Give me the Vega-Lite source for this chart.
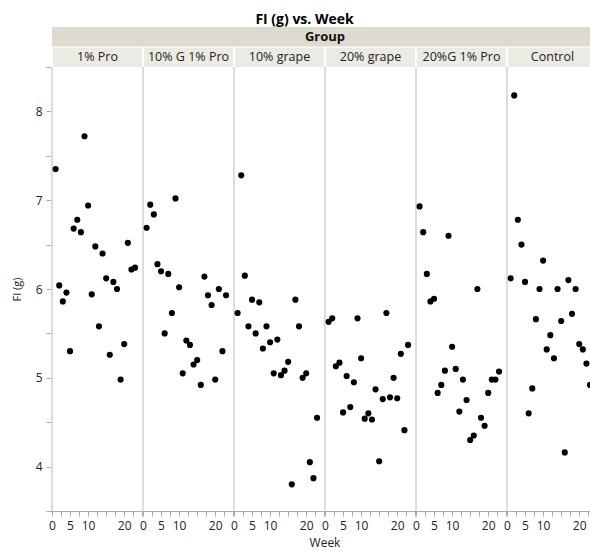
{
  "$schema": "https://vega.github.io/schema/vega-lite/v6.json",
  "title": {"text": "FI (g) vs. Week", "fontSize": 14, "font": "Open Sans", "fontWeight": "bold", "color": "#000", "anchor": "middle", "offset": 0},
  "padding": {"left": 11, "top": 13, "right": 0, "bottom": 4},
  "spacing": 0,
  "bounds": "flush",
  "config": {
    "view": {"stroke": null},
    "font": "Open Sans",
    "axis": {"domainColor": "#ababab", "tickColor": "#ababab", "labelColor": "#222", "labelFont": "Open Sans", "labelFontSize": 12, "titleFont": "Open Sans", "titleFontSize": 11, "titleFontWeight": "normal", "titleColor": "#222", "grid": false, "tickSize": 5, "labelPadding": 3, "labelOverlap": false, "labelSeparation": 0, "labelBound": false}
  },
  "datasets": {
    "hdr": [
      {"level": "panel", "Group": "1% Pro"},
      {"level": "panel", "Group": "10% G 1% Pro"},
      {"level": "panel", "Group": "10% grape"},
      {"level": "panel", "Group": "20% grape"},
      {"level": "panel", "Group": "20%G 1% Pro"},
      {"level": "panel", "Group": "Control"}
    ],
    "fi": [
      {"Group":"1% Pro","Week":1,"FI":7.35},{"Group":"1% Pro","Week":2,"FI":6.04},{"Group":"1% Pro","Week":3,"FI":5.86},{"Group":"1% Pro","Week":4,"FI":5.96},{"Group":"1% Pro","Week":5,"FI":5.30},{"Group":"1% Pro","Week":6,"FI":6.68},{"Group":"1% Pro","Week":7,"FI":6.78},{"Group":"1% Pro","Week":8,"FI":6.64},{"Group":"1% Pro","Week":9,"FI":7.72},{"Group":"1% Pro","Week":10,"FI":6.94},{"Group":"1% Pro","Week":11,"FI":5.94},{"Group":"1% Pro","Week":12,"FI":6.48},{"Group":"1% Pro","Week":13,"FI":5.58},{"Group":"1% Pro","Week":14,"FI":6.40},{"Group":"1% Pro","Week":15,"FI":6.12},{"Group":"1% Pro","Week":16,"FI":5.26},{"Group":"1% Pro","Week":17,"FI":6.08},{"Group":"1% Pro","Week":18,"FI":6.00},{"Group":"1% Pro","Week":19,"FI":4.98},{"Group":"1% Pro","Week":20,"FI":5.38},{"Group":"1% Pro","Week":21,"FI":6.52},{"Group":"1% Pro","Week":22,"FI":6.22},{"Group":"1% Pro","Week":23,"FI":6.24},
      {"Group":"10% G 1% Pro","Week":1,"FI":6.69},{"Group":"10% G 1% Pro","Week":2,"FI":6.95},{"Group":"10% G 1% Pro","Week":3,"FI":6.84},{"Group":"10% G 1% Pro","Week":4,"FI":6.28},{"Group":"10% G 1% Pro","Week":5,"FI":6.20},{"Group":"10% G 1% Pro","Week":6,"FI":5.50},{"Group":"10% G 1% Pro","Week":7,"FI":6.17},{"Group":"10% G 1% Pro","Week":8,"FI":5.73},{"Group":"10% G 1% Pro","Week":9,"FI":7.02},{"Group":"10% G 1% Pro","Week":10,"FI":6.02},{"Group":"10% G 1% Pro","Week":11,"FI":5.05},{"Group":"10% G 1% Pro","Week":12,"FI":5.42},{"Group":"10% G 1% Pro","Week":13,"FI":5.37},{"Group":"10% G 1% Pro","Week":14,"FI":5.15},{"Group":"10% G 1% Pro","Week":15,"FI":5.20},{"Group":"10% G 1% Pro","Week":16,"FI":4.92},{"Group":"10% G 1% Pro","Week":17,"FI":6.14},{"Group":"10% G 1% Pro","Week":18,"FI":5.93},{"Group":"10% G 1% Pro","Week":19,"FI":5.82},{"Group":"10% G 1% Pro","Week":20,"FI":4.98},{"Group":"10% G 1% Pro","Week":21,"FI":6.00},{"Group":"10% G 1% Pro","Week":22,"FI":5.30},{"Group":"10% G 1% Pro","Week":23,"FI":5.93},
      {"Group":"10% grape","Week":1,"FI":5.73},{"Group":"10% grape","Week":2,"FI":7.28},{"Group":"10% grape","Week":3,"FI":6.15},{"Group":"10% grape","Week":4,"FI":5.58},{"Group":"10% grape","Week":5,"FI":5.88},{"Group":"10% grape","Week":6,"FI":5.50},{"Group":"10% grape","Week":7,"FI":5.85},{"Group":"10% grape","Week":8,"FI":5.33},{"Group":"10% grape","Week":9,"FI":5.58},{"Group":"10% grape","Week":10,"FI":5.40},{"Group":"10% grape","Week":11,"FI":5.05},{"Group":"10% grape","Week":12,"FI":5.43},{"Group":"10% grape","Week":13,"FI":5.03},{"Group":"10% grape","Week":14,"FI":5.08},{"Group":"10% grape","Week":15,"FI":5.18},{"Group":"10% grape","Week":16,"FI":3.80},{"Group":"10% grape","Week":17,"FI":5.88},{"Group":"10% grape","Week":18,"FI":5.58},{"Group":"10% grape","Week":19,"FI":5.00},{"Group":"10% grape","Week":20,"FI":5.05},{"Group":"10% grape","Week":21,"FI":4.05},{"Group":"10% grape","Week":22,"FI":3.87},{"Group":"10% grape","Week":23,"FI":4.55},
      {"Group":"20% grape","Week":1,"FI":5.63},{"Group":"20% grape","Week":2,"FI":5.67},{"Group":"20% grape","Week":3,"FI":5.13},{"Group":"20% grape","Week":4,"FI":5.17},{"Group":"20% grape","Week":5,"FI":4.61},{"Group":"20% grape","Week":6,"FI":5.02},{"Group":"20% grape","Week":7,"FI":4.67},{"Group":"20% grape","Week":8,"FI":4.95},{"Group":"20% grape","Week":9,"FI":5.67},{"Group":"20% grape","Week":10,"FI":5.22},{"Group":"20% grape","Week":11,"FI":4.54},{"Group":"20% grape","Week":12,"FI":4.60},{"Group":"20% grape","Week":13,"FI":4.53},{"Group":"20% grape","Week":14,"FI":4.87},{"Group":"20% grape","Week":15,"FI":4.06},{"Group":"20% grape","Week":16,"FI":4.76},{"Group":"20% grape","Week":17,"FI":5.73},{"Group":"20% grape","Week":18,"FI":4.78},{"Group":"20% grape","Week":19,"FI":5.00},{"Group":"20% grape","Week":20,"FI":4.77},{"Group":"20% grape","Week":21,"FI":5.27},{"Group":"20% grape","Week":22,"FI":4.41},{"Group":"20% grape","Week":23,"FI":5.37},
      {"Group":"20%G 1% Pro","Week":1,"FI":6.93},{"Group":"20%G 1% Pro","Week":2,"FI":6.64},{"Group":"20%G 1% Pro","Week":3,"FI":6.17},{"Group":"20%G 1% Pro","Week":4,"FI":5.86},{"Group":"20%G 1% Pro","Week":5,"FI":5.89},{"Group":"20%G 1% Pro","Week":6,"FI":4.83},{"Group":"20%G 1% Pro","Week":7,"FI":4.92},{"Group":"20%G 1% Pro","Week":8,"FI":5.08},{"Group":"20%G 1% Pro","Week":9,"FI":6.60},{"Group":"20%G 1% Pro","Week":10,"FI":5.35},{"Group":"20%G 1% Pro","Week":11,"FI":5.10},{"Group":"20%G 1% Pro","Week":12,"FI":4.62},{"Group":"20%G 1% Pro","Week":13,"FI":4.98},{"Group":"20%G 1% Pro","Week":14,"FI":4.75},{"Group":"20%G 1% Pro","Week":15,"FI":4.30},{"Group":"20%G 1% Pro","Week":16,"FI":4.35},{"Group":"20%G 1% Pro","Week":17,"FI":6.00},{"Group":"20%G 1% Pro","Week":18,"FI":4.55},{"Group":"20%G 1% Pro","Week":19,"FI":4.46},{"Group":"20%G 1% Pro","Week":20,"FI":4.83},{"Group":"20%G 1% Pro","Week":21,"FI":4.98},{"Group":"20%G 1% Pro","Week":22,"FI":4.98},{"Group":"20%G 1% Pro","Week":23,"FI":5.07},
      {"Group":"Control","Week":1,"FI":6.12},{"Group":"Control","Week":2,"FI":8.18},{"Group":"Control","Week":3,"FI":6.78},{"Group":"Control","Week":4,"FI":6.50},{"Group":"Control","Week":5,"FI":6.08},{"Group":"Control","Week":6,"FI":4.60},{"Group":"Control","Week":7,"FI":4.88},{"Group":"Control","Week":8,"FI":5.66},{"Group":"Control","Week":9,"FI":6.00},{"Group":"Control","Week":10,"FI":6.32},{"Group":"Control","Week":11,"FI":5.32},{"Group":"Control","Week":12,"FI":5.48},{"Group":"Control","Week":13,"FI":5.22},{"Group":"Control","Week":14,"FI":6.00},{"Group":"Control","Week":15,"FI":5.64},{"Group":"Control","Week":16,"FI":4.16},{"Group":"Control","Week":17,"FI":6.10},{"Group":"Control","Week":18,"FI":5.72},{"Group":"Control","Week":19,"FI":6.00},{"Group":"Control","Week":20,"FI":5.38},{"Group":"Control","Week":21,"FI":5.32},{"Group":"Control","Week":22,"FI":5.16},{"Group":"Control","Week":23,"FI":4.92}
    ]
  },
  "vconcat": [
    {
      "width": 546,
      "height": 40,
      "layer": [
        {
          "data": {"values": [{"level": "top", "label": "Group"}]},
          "mark": {"type": "bar", "color": "#dddbcf"},
          "encoding": {
            "y": {"field": "level", "type": "nominal", "scale": {"domain": ["top", "panel"], "paddingInner": 0.05, "paddingOuter": 0}, "axis": null}
          }
        },
        {
          "data": {"values": [{"level": "top", "label": "Group"}]},
          "mark": {"type": "text", "fontWeight": "bold", "fontSize": 13, "color": "#111", "font": "Open Sans"},
          "encoding": {
            "y": {"field": "level", "type": "nominal", "scale": {"domain": ["top", "panel"], "paddingInner": 0.05, "paddingOuter": 0}, "axis": null},
            "text": {"field": "label"}
          }
        },
        {
          "data": {"name": "hdr"},
          "mark": {"type": "bar", "color": "#ebebe3"},
          "encoding": {
            "x": {"field": "Group", "type": "nominal", "sort": ["1% Pro", "10% G 1% Pro", "10% grape", "20% grape", "20%G 1% Pro", "Control"], "scale": {"paddingInner": 0.025, "paddingOuter": 0.0125}, "axis": null},
            "y": {"field": "level", "type": "nominal", "scale": {"domain": ["top", "panel"], "paddingInner": 0.05, "paddingOuter": 0}, "axis": null}
          }
        },
        {
          "data": {"name": "hdr"},
          "mark": {"type": "text", "fontSize": 12.5, "color": "#222", "font": "Open Sans"},
          "encoding": {
            "x": {"field": "Group", "type": "nominal", "sort": ["1% Pro", "10% G 1% Pro", "10% grape", "20% grape", "20%G 1% Pro", "Control"], "scale": {"paddingInner": 0.025, "paddingOuter": 0.0125}, "axis": null},
            "y": {"field": "level", "type": "nominal", "scale": {"domain": ["top", "panel"], "paddingInner": 0.05, "paddingOuter": 0}, "axis": null},
            "text": {"field": "Group"}
          }
        }
      ]
    },
    {
      "data": {"name": "fi"},
      "facet": {
        "column": {"field": "Group", "type": "nominal", "title": "Week", "sort": ["1% Pro", "10% G 1% Pro", "10% grape", "20% grape", "20%G 1% Pro", "Control"], "header": {"labels": false, "titleOrient": "bottom", "titleFont": "Open Sans", "titleFontSize": 12, "titleFontWeight": "normal", "titleColor": "#222", "titlePadding": -3, "labelPadding": 0}}
      },
      "spacing": {"column": 0},
      "bounds": "flush",
      "spec": {
        "width": 91,
        "height": 444,
        "layer": [
          {
            "mark": {"type": "rule", "color": "#dcdcdc", "strokeWidth": 1},
            "encoding": {
              "x": {"datum": 0, "type": "quantitative", "title": null, "scale": {"domain": [0, 25.2], "nice": false, "zero": false},
                "axis": {"values": [0, 2.5, 5, 7.5, 10, 12.5, 15, 17.5, 20, 22.5, 25], "format": ".1f", "labelExpr": "(datum.value % 5 === 0 && datum.value != 15 && datum.value != 25) ? format(datum.value, 'd') : ''", "labelOverlap": false, "labelSeparation": 0, "labelBound": false, "labelFlush": false, "labelPadding": 4}}
            }
          },
          {
            "mark": {"type": "circle", "size": 38, "color": "#000", "opacity": 1},
            "encoding": {
              "x": {"field": "Week", "type": "quantitative", "title": null, "scale": {"domain": [0, 25.2], "nice": false, "zero": false},
                "axis": {"values": [0, 2.5, 5, 7.5, 10, 12.5, 15, 17.5, 20, 22.5, 25], "format": ".1f", "labelExpr": "(datum.value % 5 === 0 && datum.value != 15 && datum.value != 25) ? format(datum.value, 'd') : ''", "labelOverlap": false, "labelSeparation": 0, "labelBound": false, "labelFlush": false, "labelPadding": 4}},
              "y": {"field": "FI", "type": "quantitative", "title": "FI (g)", "scale": {"domain": [3.5, 8.5], "nice": false, "zero": false},
                "axis": {"values": [3.5, 4, 4.5, 5, 5.5, 6, 6.5, 7, 7.5, 8, 8.5], "format": ".0f", "labelExpr": "datum.value % 1 === 0 ? datum.label : ''", "labelOverlap": false, "labelFlush": false, "tickSize": 6, "labelPadding": 4, "titlePadding": 13}}
            }
          }
        ]
      }
    }
  ]
}
